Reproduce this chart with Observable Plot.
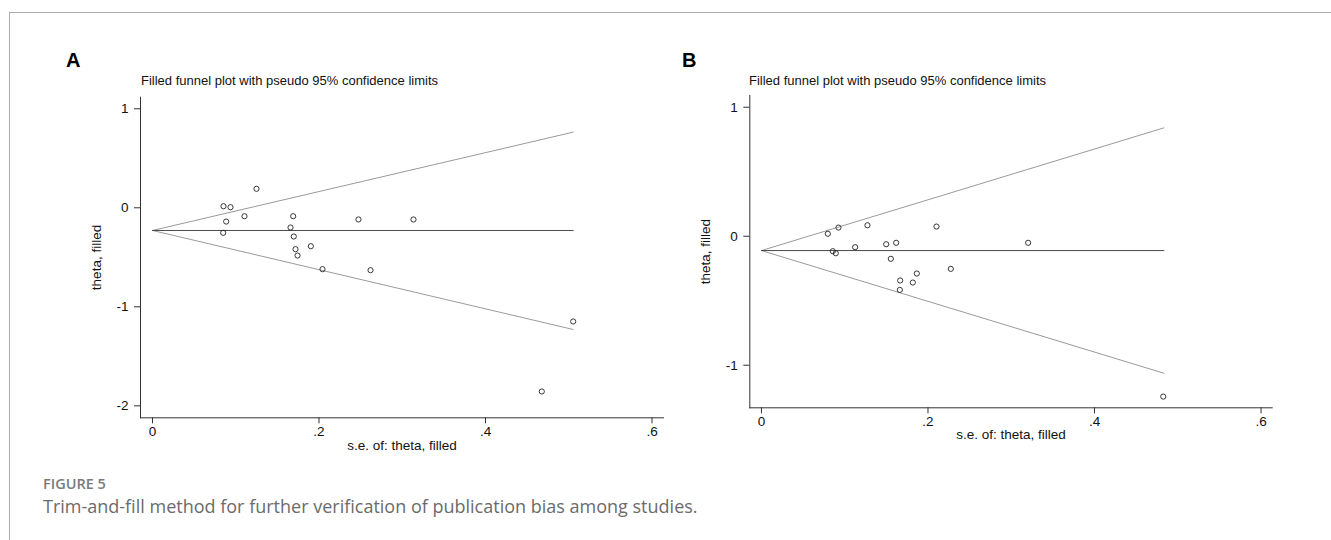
<!DOCTYPE html>
<html><head><meta charset="utf-8">
<script src="https://cdn.jsdelivr.net/npm/d3@7"></script>
<script src="https://cdn.jsdelivr.net/npm/@observablehq/plot@0.6"></script>
<style>
html,body{margin:0;padding:0;background:#fff;}
#page{position:relative;width:1331px;height:540px;overflow:hidden;font-family:"Liberation Sans",Arial,sans-serif;}
.abs{position:absolute;white-space:nowrap;line-height:1;}
.border{position:absolute;left:9px;top:12px;width:1400px;height:600px;border-top:1.5px solid #ababab;border-left:1.5px solid #ababab;}
.plabel{font-weight:bold;font-size:20px;color:#000;}
.ptitle{font-size:13px;color:#111;}
.figno{font-family:"Open Sans",sans-serif;font-weight:600;font-size:14.5px;color:#7a7a7a;}
.figcap{font-family:"Open Sans",sans-serif;font-size:18px;color:#6b6b6b;}
.plot{position:absolute;}
.plot svg g[aria-label$="tick label"]{font-size:13.5px;}
</style></head>
<body>
<div id="page">
  <div class="border"></div>
  <div class="abs plabel" style="left:66px;top:50px;">A</div>
  <div class="abs plabel" style="left:682px;top:50px;">B</div>
  <div class="abs ptitle" style="left:141px;top:73.6px;">Filled funnel plot with pseudo 95% confidence limits</div>
  <div class="abs ptitle" style="left:749px;top:74px;">Filled funnel plot with pseudo 95% confidence limits</div>
  <div id="plotA" class="plot" style="left:60px;top:86px;"></div>
  <div id="plotB" class="plot" style="left:670px;top:84px;"></div>
  <div class="abs figno" style="left:43px;top:477.3px;">FIGURE 5</div>
  <div class="abs figcap" style="left:43px;top:497.1px;">Trim-and-fill method for further verification of publication bias among studies.</div>
</div>
<script>
// ---- Panel A data ----
const seA    = [0.1249, 0.0853, 0.0937, 0.1105, 0.0885, 0.0849, 0.1690, 0.1658, 0.1697, 0.1718, 0.1742, 0.1902, 0.2042, 0.2619, 0.2474, 0.3135, 0.5053, 0.4676];
const thetaA = [0.192, 0.016, 0.006, -0.085, -0.139, -0.253, -0.085, -0.199, -0.290, -0.418, -0.482, -0.388, -0.620, -0.630, -0.118, -0.118, -1.148, -1.855];
const funnelSeA    = [0, 0.5053];
const funnelUpperA = [-0.229, 0.764];
const funnelMidA   = [-0.229, -0.229];
const funnelLowerA = [-0.229, -1.229];
const yTicksA = [-2, -1, 0, 1];

// ---- Panel B data ----
const seB    = [0.0797, 0.0925, 0.1273, 0.2102, 0.0857, 0.0893, 0.1125, 0.1498, 0.1618, 0.1554, 0.1866, 0.1666, 0.1818, 0.1662, 0.2274, 0.3203, 0.4825];
const thetaB = [0.019, 0.067, 0.085, 0.075, -0.116, -0.132, -0.085, -0.062, -0.051, -0.175, -0.289, -0.343, -0.359, -0.416, -0.253, -0.051, -1.243];
const funnelSeB    = [0, 0.4833];
const funnelUpperB = [-0.111, 0.840];
const funnelMidB   = [-0.111, -0.111];
const funnelLowerB = [-0.111, -1.062];
const yTicksB = [-1, 0, 1];

const xTicks = [0, 0.2, 0.4, 0.6];
const xLabel = "s.e. of: theta, filled";
const yLabel = "theta, filled";

const fmt = d => {
  if (d === 0) return "0";
  if (Math.abs(d) < 1) return String(+d.toFixed(3)).replace(/^(-?)0\./, "$1.");
  return String(d);
};

function panel(cfg) {
  const pts = cfg.se.map((s, i) => ({s, t: cfg.theta[i]}));
  const seg = arr => cfg.fse.map((s, i) => ({s, t: arr[i]}));
  return Plot.plot({
    width: cfg.width, height: cfg.height,
    marginLeft: cfg.ml, marginRight: cfg.mr, marginTop: cfg.mt, marginBottom: cfg.mb,
    style: {fontFamily: '"Liberation Sans", Arial, sans-serif', fontSize: "13px", background: "transparent", overflow: "visible"},
    x: {domain: cfg.xDomain},
    y: {domain: cfg.yDomain},
    marks: [
      Plot.line(seg(cfg.up), {x: "s", y: "t", stroke: "#9a9a9a", strokeWidth: 1}),
      Plot.line(seg(cfg.lo), {x: "s", y: "t", stroke: "#9a9a9a", strokeWidth: 1}),
      Plot.line(seg(cfg.mid), {x: "s", y: "t", stroke: "#4a4a4a", strokeWidth: 1}),
      Plot.dot(pts, {x: "s", y: "t", r: 2.6, stroke: "#222", strokeWidth: 0.9, fill: "none"}),
      Plot.frame({anchor: "left", stroke: "#333"}),
      Plot.frame({anchor: "bottom", stroke: "#333"}),
      Plot.axisX({ticks: xTicks, tickFormat: fmt, tickSize: 6, tickPadding: 3, label: null, fontSize: 13.5, stroke: "#333", fill: "#111"}),
      Plot.axisY({ticks: cfg.yTicks, tickFormat: fmt, tickSize: 6, tickPadding: 6, label: null, fontSize: 13.5, stroke: "#333", fill: "#111"}),
      Plot.text([yLabel], {text: d => d, frameAnchor: "left", textAnchor: "middle", lineAnchor: "middle", rotate: -90, dx: -44, fontSize: 13.5, fill: "#111"}),
      Plot.text([xLabel], {text: d => d, frameAnchor: "bottom", textAnchor: "middle", lineAnchor: "middle", dy: cfg.xlDy, fontSize: 13.5, fill: "#111"})
    ]
  });
}

document.getElementById("plotA").append(panel({
  se: seA, theta: thetaA, fse: funnelSeA, up: funnelUpperA, mid: funnelMidA, lo: funnelLowerA,
  yTicks: yTicksA, xDomain: [-0.0144, 0.6138], yDomain: [-2.121, 1.117],
  width: 620, height: 380, ml: 80, mr: 17, mt: 10.7, mb: 48.7, xlDy: 27.5
}));
document.getElementById("plotB").append(panel({
  se: seB, theta: thetaB, fse: funnelSeB, up: funnelUpperB, mid: funnelMidB, lo: funnelLowerB,
  yTicks: yTicksB, xDomain: [-0.0140, 0.6134], yDomain: [-1.330, 1.091],
  width: 620, height: 380, ml: 79.3, mr: 18.3, mt: 11, mb: 56.7, xlDy: 26.5
}));
</script>
</body></html>
